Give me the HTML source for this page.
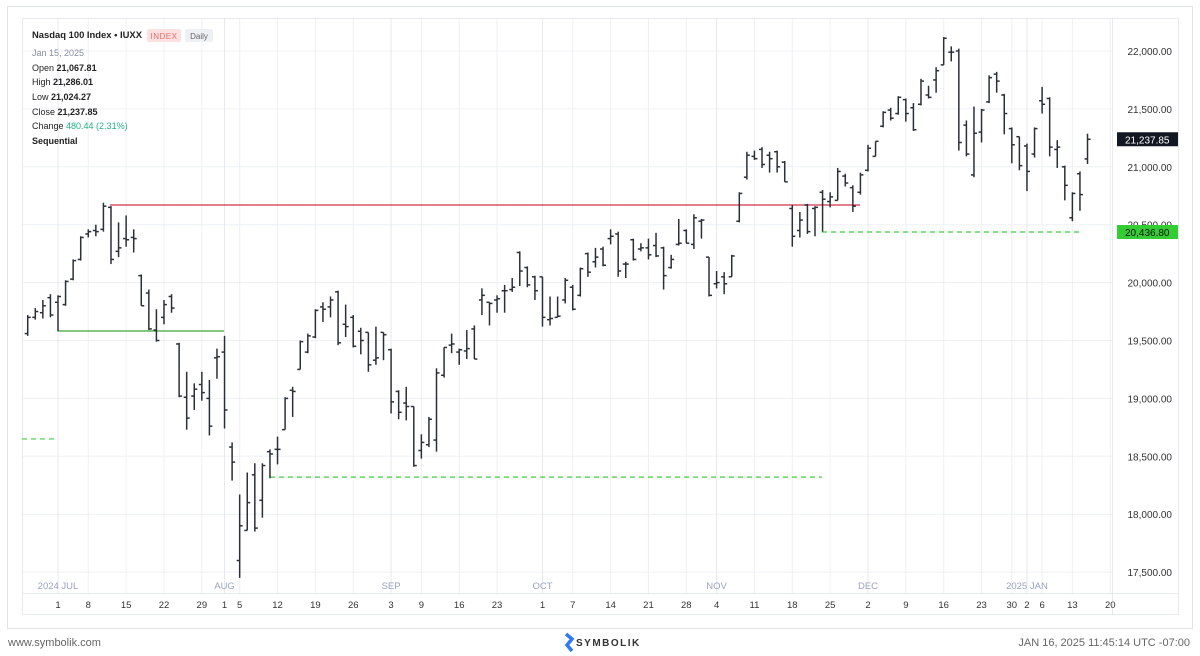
<!DOCTYPE html>
<html><head><meta charset="utf-8"><style>
html,body{margin:0;padding:0;background:#fff;width:1200px;height:656px;overflow:hidden;font-family:"Liberation Sans",sans-serif}
svg{display:block}
</style></head><body>
<svg id="chart" width="1200" height="656" viewBox="0 0 1200 656" xmlns="http://www.w3.org/2000/svg">
<rect x="7.5" y="6.5" width="1185" height="622" fill="#fff" stroke="#dfe2e8"/>
<rect x="22.5" y="18.5" width="1156" height="596" fill="#fff" stroke="#e6e9ef"/>
<g id="grid"></g>
<g id="levels"></g>
<g id="bars"></g>
<g id="yaxis"></g>
<g id="xaxis"></g>
<g font-size="9" fill="#222">
<text x="32" y="38" font-size="9.5" font-weight="bold" textLength="110" lengthAdjust="spacingAndGlyphs">Nasdaq 100 Index • IUXX</text>
<rect x="147" y="29" width="34" height="13" rx="2" fill="#fde0e0"/>
<text x="164" y="39" text-anchor="middle" font-size="8" fill="#f06b6b" letter-spacing="0.5">INDEX</text>
<rect x="185" y="29" width="28" height="13" rx="2" fill="#eef0f4"/>
<text x="199" y="39" text-anchor="middle" font-size="8" fill="#666">Daily</text>
<text x="32" y="56" fill="#8a8fa0">Jan 15, 2025</text>
<text x="32" y="71">Open <tspan font-weight="bold">21,067.81</tspan></text>
<text x="32" y="85">High <tspan font-weight="bold">21,286.01</tspan></text>
<text x="32" y="100">Low <tspan font-weight="bold">21,024.27</tspan></text>
<text x="32" y="115">Close <tspan font-weight="bold">21,237.85</tspan></text>
<text x="32" y="129">Change <tspan fill="#22b07d">480.44 (2.31%)</tspan></text>
<text x="32" y="144" font-weight="bold">Sequential</text>
</g>
<text x="8" y="646" font-size="11" fill="#666">www.symbolik.com</text>
<g>
<path d="M566 634 L572 639 L567 645 L572 651" stroke="#2f7bf5" stroke-width="3.5" fill="none"/>
<text x="576" y="646" font-size="10" font-weight="bold" fill="#333" letter-spacing="1.5">SYMBOLIK</text>
</g>
<text x="1190" y="646" font-size="11" fill="#666" text-anchor="end">JAN 16, 2025 11:45:14 UTC -07:00</text>
</svg>
<script>
// trading day index: -4 = Jun 25 2024 ... 136 = Jan 15 2025
const opens=[19560,19700,19740,19870,19830,19810,20030,20200,20420,20450,20460,20650,20270,20380,20390,20060,19910,19590,19700,19880,19470,19010,19020,19120,19000,19350,19400,18580,17600,17860,18340,18120,18540,18560,18730,19070,19250,19400,19530,19790,19790,19920,19640,19700,19580,19570,19330,19570,19420,19060,18960,18930,18550,18600,18640,19200,19460,19400,19410,19600,19850,19830,19850,19930,19940,20260,20130,20050,20050,19680,19700,19850,19960,19890,20250,20180,20290,20380,20420,20160,20370,20290,20300,20320,20300,20130,20330,20450,20330,20530,20220,19990,20050,20050,20530,20910,21090,21150,21100,21130,21040,20640,20450,20670,20640,20780,20700,20710,20920,20820,20780,20970,21090,21350,21490,21460,21580,21510,21540,21620,21750,21880,21990,22000,21360,20930,21300,21560,21800,21620,21330,21260,21180,21110,21570,21590,21150,21000,20560,20940,21068];
const highs=[19720,19780,19850,19900,19890,20020,20200,20400,20460,20500,20690,20660,20520,20580,20460,20070,19940,19770,19850,19900,19480,19230,19130,19230,19160,19430,19540,18620,18170,18360,18440,18440,18560,18670,19010,19100,19500,19560,19770,19830,19880,19930,19810,19720,19610,19570,19620,19570,19430,19070,19100,18930,18690,18840,19260,19440,19560,19430,19590,19630,19950,19830,19890,19980,20040,20270,20140,20060,20050,19880,19880,20040,19980,20130,20260,20300,20310,20460,20440,20180,20380,20340,20380,20430,20310,20240,20550,20460,20590,20550,20220,20100,20090,20240,20780,21130,21140,21170,21130,21140,21050,20670,20610,20680,20660,20800,20780,20990,20940,20840,20950,21190,21220,21480,21510,21610,21590,21550,21760,21700,21860,22120,22040,22020,21400,21520,21500,21790,21820,21630,21340,21260,21200,21340,21690,21600,21230,21010,20780,20960,21286];
const lows=[19540,19680,19690,19700,19580,19800,20020,20190,20390,20400,20440,20160,20220,20310,20260,19800,19590,19490,19640,19740,19010,18730,18900,18980,18680,19170,18740,18290,17450,17860,17850,17970,18310,18430,18730,18840,19250,19390,19520,19660,19700,19460,19530,19440,19380,19230,19290,19330,18870,18820,18810,18410,18480,18580,18540,19180,19390,19290,19340,19340,19720,19630,19740,19740,19920,19970,19960,19850,19620,19630,19700,19820,19760,19880,20050,20130,20140,20330,20050,20040,20190,20270,20200,20220,19940,20120,20320,20340,20290,20380,19880,19950,19900,20050,20520,20890,21060,20990,20950,20950,20870,20310,20390,20420,20400,20440,20650,20710,20830,20610,20760,20960,21090,21340,21400,21450,21390,21310,21530,21590,21640,21880,21910,21140,21090,20910,21210,21550,21640,21280,21030,20970,20790,21080,21460,21090,20990,20710,20530,20620,21024];
const closes=[19700,19750,19800,19720,19880,20010,20190,20390,20440,20440,20660,20200,20300,20370,20380,19800,19600,19500,19810,19780,19020,18830,19080,19050,18760,19360,18900,18450,17900,18100,17880,18420,18520,18560,19000,19060,19490,19540,19760,19770,19850,19480,19620,19450,19500,19290,19350,19550,18970,18880,18930,18420,18620,18820,19220,19440,19470,19420,19430,19340,19890,19820,19860,19930,19960,20100,19980,19930,19700,19690,19710,20020,19770,20120,20090,20220,20150,20400,20100,20160,20200,20300,20240,20230,20060,20200,20340,20340,20560,20540,19890,20000,19990,20230,20770,21100,21070,21020,21070,21000,20870,20400,20540,20440,20650,20720,20740,20960,20860,20660,20930,21160,21220,21470,21420,21600,21460,21320,21740,21600,21830,22110,21990,21210,21110,21290,21490,21770,21740,21460,21190,21010,20960,21330,21540,21170,21170,20840,20770,20760,21238];
const yTicks=[17500,18000,18500,19000,19500,20000,20500,21000,21500,22000];
const dayTickIdx=[0,4,9,14,19,22,24,29,34,39,44,48,53,58,64,68,73,78,83,87,92,97,102,107,112,117,122,126,128,130,134,139];
const dayTickLabels=["1","8","15","22","29","1","5","12","19","26","3","9","16","23","1","7","14","21","28","4","11","18","25","2","9","16","23","30","2","6","13","20"];
const monthIdx=[0,22,44,64,87,107,128];
const monthLabels=["2024 JUL","AUG","SEP","OCT","NOV","DEC","2025 JAN"];
const levelValues=[20670,19582,18650,18320,20436.8];
const lastClose=21237.85;

const NS="http://www.w3.org/2000/svg";
const X0=58, DX=7.57, FIRST=-4;
function xs(i){return X0+i*DX;}
function ys(v){return 51+(22000-v)/500*57.9;}
function mk(tag,attrs,parent){const e=document.createElementNS(NS,tag);for(const k in attrs)e.setAttribute(k,attrs[k]);parent.appendChild(e);return e;}
const grid=document.getElementById('grid');
yTicks.forEach(v=>{
  const l=mk('line',{x1:23,x2:1112,y1:ys(v),y2:ys(v),stroke:'#eef0f5','stroke-width':1},grid);
  
  
});
dayTickIdx.forEach(i=>{
  const x=xs(i); if(x>1112)return;
  const l=mk('line',{x1:x,x2:x,y1:19,y2:593,stroke:'#eef0f5','stroke-width':1},grid);
  
  
});
monthIdx.forEach(i=>{
  const x=xs(i);
  const l=mk('line',{x1:x,x2:x,y1:19,y2:593,stroke:'#e6e9f2'},grid);
  
  
});
mk('line',{x1:23,x2:1178,y1:593.5,y2:593.5,stroke:'#e6e9ef'},grid);
mk('line',{x1:1112.5,x2:1112.5,y1:19,y2:614,stroke:'#e6e9ef'},grid);
// levels
const lv=document.getElementById('levels');
const levelSpec=[[0,levelValues[0],110,860,'#d0314a',''],[1,levelValues[1],58,224,'#3aa83a',''],[2,levelValues[2],22,58,'#3ccf3c','5,4'],[3,levelValues[3],270,822,'#3ccf3c','5,4'],[4,levelValues[4],822,1082,'#3ccf3c','5,4']];
levelSpec.forEach(s=>{
  const l=mk('line',{x1:s[2],x2:s[3],y1:ys(s[1]),y2:ys(s[1]),stroke:s[4],'stroke-width':1.2,'stroke-dasharray':s[5]},lv);
  
  
});
// bars
const bars=document.getElementById('bars');
for(let k=0;k<opens.length;k++){
  const x=xs(k+FIRST);
  const g=mk('g',{stroke:'#2b2f3a','stroke-width':1.5},bars);
  
  
  mk('line',{x1:x,x2:x,y1:ys(highs[k]),y2:ys(lows[k])},g);
  mk('line',{x1:x-3,x2:x,y1:ys(opens[k]),y2:ys(opens[k])},g);
  mk('line',{x1:x,x2:x+3,y1:ys(closes[k]),y2:ys(closes[k])},g);
}
// y axis
const ya=document.getElementById('yaxis');
yTicks.forEach(v=>{
  const t=mk('text',{x:1172,y:ys(v)+4,'text-anchor':'end','font-size':10,fill:'#333'},ya);
  t.textContent=v.toLocaleString('en-US',{minimumFractionDigits:2});
  
  
});
function badge(v,bg,fg,name){
  const y=ys(v);
  const r=mk('rect',{x:1117,y:y-7,width:61,height:14,fill:bg},ya);
  
  
  const t=mk('text',{x:1125,y:y+4,'font-size':10,fill:fg},ya);
  t.textContent=v.toLocaleString('en-US',{minimumFractionDigits:2});
  
  
}
badge(lastClose,'#131722','#fff','last-price-badge');
badge(levelValues[4],'#33cc33','#111','support-level-badge');
// x axis
const xa=document.getElementById('xaxis');
dayTickIdx.forEach((i,n)=>{
  const t=mk('text',{x:xs(i),y:608,'text-anchor':'middle','font-size':9.5,fill:'#333'},xa);
  t.textContent=dayTickLabels[n];
  
  
});
monthIdx.forEach((i,n)=>{
  const t=mk('text',{x:xs(i),y:589,'text-anchor':'middle','font-size':9.5,fill:'#9aa3bf'},xa);
  t.textContent=monthLabels[n];
  
  
});
</script>
</body></html>
